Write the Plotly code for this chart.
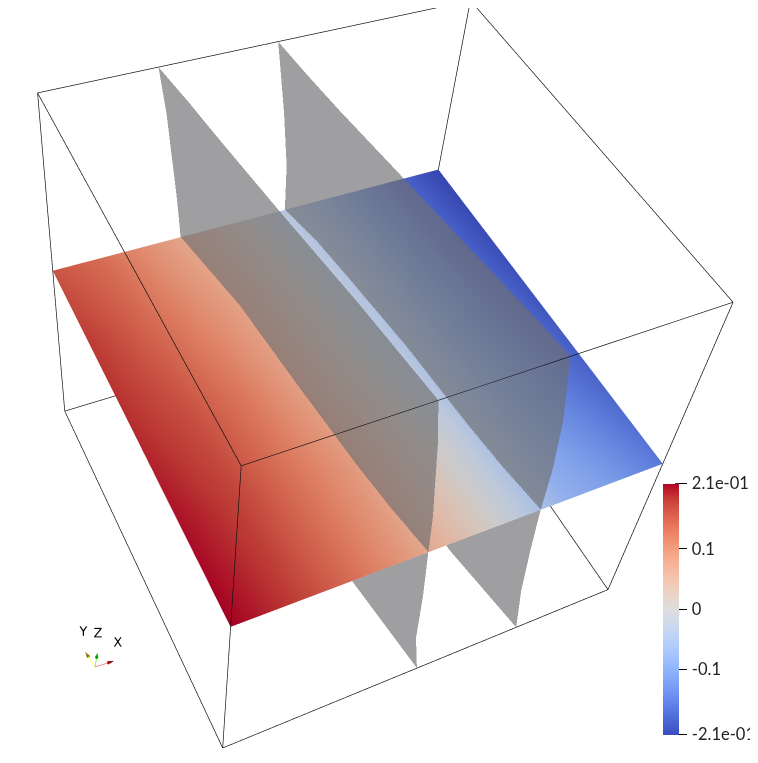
import numpy as np
import plotly.graph_objects as go

# field on the mid plane, rows follow plane_y, columns follow plane_x
plane_x = [-1, -0.75, -0.5, -0.25, 0, 0.25, 0.5, 0.75, 1]
plane_y = [-1, -0.5, 0, 0.5, 1]
plane_val = [
    [0.210, 0.181, 0.139, 0.092, 0.038, -0.016, -0.080, -0.113, -0.155],
    [0.202, 0.176, 0.134, 0.092, 0.034, -0.021, -0.092, -0.139, -0.176],
    [0.189, 0.164, 0.126, 0.080, 0.021, -0.034, -0.101, -0.151, -0.193],
    [0.181, 0.147, 0.109, 0.071, 0.013, -0.042, -0.109, -0.164, -0.202],
    [0.160, 0.134, 0.092, 0.055, 0.000, -0.055, -0.118, -0.172, -0.210],
]

# the two gray sheets: x position per (z, y)
sheet_y = [-1, -0.75, -0.5, 0, 0.5, 0.75, 1]
sheet1_z = [1, 0.75, 0.25, 0, -0.35, -0.7, -1]
sheet1_x = [
    [-0.27, -0.295, -0.32, -0.38, -0.435, -0.46, -0.49],
    [-0.23, -0.26, -0.29, -0.355, -0.415, -0.44, -0.455],
    [-0.17, -0.205, -0.24, -0.295, -0.345, -0.37, -0.405],
    [-0.15, -0.19, -0.22, -0.265, -0.305, -0.345, -0.385],
    [-0.12, -0.155, -0.19, -0.235, -0.28, -0.31, -0.36],
    [-0.10, -0.13, -0.155, -0.205, -0.26, -0.285, -0.33],
    [-0.05, -0.08, -0.11, -0.17, -0.23, -0.26, -0.29],
]
sheet2_z = [1, 0.6, 0.28, 0, -0.3, -0.65, -1]
sheet2_x = [
    [0.27, 0.245, 0.215, 0.155, 0.095, 0.07, 0.05],
    [0.34, 0.30, 0.27, 0.21, 0.155, 0.13, 0.105],
    [0.37, 0.33, 0.30, 0.245, 0.195, 0.17, 0.14],
    [0.38, 0.345, 0.32, 0.285, 0.23, 0.20, 0.15],
    [0.40, 0.365, 0.34, 0.31, 0.26, 0.225, 0.175],
    [0.43, 0.395, 0.37, 0.335, 0.285, 0.25, 0.205],
    [0.48, 0.44, 0.40, 0.36, 0.31, 0.28, 0.25],
]

tick_vals = [-0.2085, -0.1, 0, 0.1, 0.2085]
tick_text = ["\u2009-2.1e-01", "\u2009-0.1", "\u20090", "\u20090.1", "\u20092.1e-01"]

cool_warm = ["rgb(59,76,192)", "rgb(77,104,215)", "rgb(98,130,234)", "rgb(119,154,247)",
             "rgb(141,176,254)", "rgb(163,194,255)", "rgb(184,208,249)", "rgb(204,217,238)",
             "rgb(221,221,221)", "rgb(236,211,197)", "rgb(245,196,173)", "rgb(247,177,148)",
             "rgb(244,154,123)", "rgb(236,127,99)", "rgb(222,96,77)", "rgb(203,62,56)",
             "rgb(180,4,38)"]
colorscale = [[i / 16, c] for i, c in enumerate(cool_warm)]

# the page keeps its 8px body margin, so the plot starts at (8, 8)
WIDTH, HEIGHT = 750, 755
SCENE_W, SCENE_H = 742, 747


def page_x(px):
    return (px - 8) / WIDTH


def page_y(py):
    return 1 - (py - 8) / HEIGHT


# camera fitted to the box corners (30 degree lens, plotly only has 45)
R = np.array([[0.88276, -0.45617, 0.11246],
              [-0.28338, -0.70789, -0.64698],
              [0.37474, 0.53926, -0.75417]])
T = np.array([-0.1283, -0.0736, 6.2397])
LENS = 1424.0 / ((SCENE_H / 2) / np.tan(np.pi / 8))
K = 0.12


def to_scene(x, y, z):
    p = np.stack([np.asarray(x, float), np.asarray(y, float), np.asarray(z, float)], axis=-1)
    c = p @ R.T + T
    return LENS * K * c[..., 0], -LENS * K * c[..., 1], K * (T[2] - c[..., 2])


def sheet_trace(xs, zs):
    xs = np.array(xs)
    ys = np.tile(sheet_y, (len(zs), 1))
    zz = np.tile(np.array(zs)[:, None], (1, len(sheet_y)))
    sx, sy, sz = to_scene(xs, ys, zz)
    return go.Surface(x=sx, y=sy, z=sz, opacity=0.66, showscale=False,
                      colorscale=[[0, "rgb(110,110,112)"], [1, "rgb(110,110,112)"]],
                      lighting=dict(ambient=1, diffuse=0, specular=0, fresnel=0),
                      hoverinfo="skip")


fig = go.Figure()

px_, py_ = np.meshgrid(plane_x, plane_y)
sx, sy, sz = to_scene(px_, py_, np.zeros_like(px_))
fig.add_trace(go.Surface(
    x=sx, y=sy, z=sz, surfacecolor=plane_val, cmin=-0.2085, cmax=0.2085, colorscale=colorscale,
    lighting=dict(ambient=0.92, diffuse=0, specular=0, fresnel=0), hoverinfo="skip",
    colorbar=dict(x=page_x(663), xanchor="left", xpad=0, y=page_y(483.5), yanchor="top", ypad=0,
                  len=250.5, lenmode="pixels", thickness=16, thicknessmode="pixels",
                  outlinewidth=0, ticks="outside", ticklen=8, tickwidth=1, tickcolor="black",
                  tickvals=tick_vals, ticktext=tick_text,
                  tickfont=dict(family="Lato", size=16.5, color="#222222"))))
fig.add_trace(sheet_trace(sheet1_x, sheet1_z))
fig.add_trace(sheet_trace(sheet2_x, sheet2_z))

# outline of the cube
corners = [(-1, -1, -1), (1, -1, -1), (1, 1, -1), (-1, 1, -1), (-1, -1, 1), (1, -1, 1), (1, 1, 1), (-1, 1, 1)]
edges = [(0, 1), (1, 2), (2, 3), (3, 0), (4, 5), (5, 6), (6, 7), (7, 4), (0, 4), (1, 5), (2, 6), (3, 7)]
bx, by, bz = [], [], []
for a, b in edges:
    xa, ya, za = to_scene(*corners[a])
    xb, yb, zb = to_scene(*corners[b])
    bx += [xa, xb, None]
    by += [ya, yb, None]
    bz += [za, zb, None]
fig.add_trace(go.Scatter3d(x=bx, y=by, z=bz, mode="lines", line=dict(color="#111111", width=1.4),
                           showlegend=False, hoverinfo="skip"))

# orientation axes
for vec, line_col, cone_col, label in [((1, 0, 0), "#ff6b6b", "#8c0000", "X"),
                                       ((0, 1, 0), "#ffff33", "#8a7d00", "Y"),
                                       ((0, 0, 1), "#55ff55", "#00b000", "Z")]:
    fig.add_trace(go.Scatter3d(x=[0, vec[0]], y=[0, vec[1]], z=[0, vec[2]], mode="lines",
                               line=dict(color=line_col, width=1.5), scene="scene2",
                               showlegend=False, hoverinfo="skip"))
    fig.add_trace(go.Cone(x=[vec[0]], y=[vec[1]], z=[vec[2]], u=[vec[0]], v=[vec[1]], w=[vec[2]],
                          anchor="tip", sizemode="absolute", sizeref=0.32, showscale=False,
                          colorscale=[[0, cone_col], [1, cone_col]],
                          lighting=dict(ambient=0.9, diffuse=0.3, specular=0),
                          scene="scene2", hoverinfo="skip"))
    fig.add_trace(go.Scatter3d(x=[1.2 * vec[0]], y=[1.2 * vec[1]], z=[1.2 * vec[2]], mode="text", text=[label],
                               textfont=dict(family="DejaVu Sans", size=13, color="black"),
                               scene="scene2", showlegend=False, hoverinfo="skip"))

# the legend ticks also reach a little into the bar
bar_mid, bar_half = 609.0, 125.25
shapes = [dict(type="line", xref="paper", yref="paper", x0=page_x(675), x1=page_x(679),
               y0=page_y(bar_mid - v / 0.2085 * bar_half), y1=page_y(bar_mid - v / 0.2085 * bar_half),
               line=dict(color="black", width=1)) for v in tick_vals]

hidden = dict(visible=False, autorange=False)
fig.update_layout(
    width=WIDTH, height=HEIGHT, margin=dict(l=0, r=0, t=0, b=0), paper_bgcolor="white", showlegend=False,
    shapes=shapes,
    scene=dict(
        domain=dict(x=[0, SCENE_W / WIDTH], y=[1 - SCENE_H / HEIGHT, 1]), aspectmode="manual",
        aspectratio=dict(x=1, y=1, z=1),
        xaxis=dict(range=[-0.5, 0.5], **hidden), yaxis=dict(range=[-0.5, 0.5], **hidden),
        zaxis=dict(range=[-0.5, 0.5], **hidden), bgcolor="white",
        camera=dict(eye=dict(x=0, y=0, z=K * T[2]), center=dict(x=0, y=0, z=0), up=dict(x=0, y=1, z=0))),
    scene2=dict(
        domain=dict(x=[page_x(35), page_x(155)], y=[page_y(727), page_y(607)]), aspectmode="cube",
        xaxis=dict(range=[-1.4, 1.4], **hidden), yaxis=dict(range=[-1.4, 1.4], **hidden),
        zaxis=dict(range=[-1.4, 1.4], **hidden), bgcolor="rgba(0,0,0,0)",
        camera=dict(eye=dict(x=-R[2, 0], y=-R[2, 1], z=-R[2, 2]),
                    up=dict(x=-R[1, 0], y=-R[1, 1], z=-R[1, 2]),
                    projection=dict(type="orthographic"))),
)

fig.write_html("out.html")
